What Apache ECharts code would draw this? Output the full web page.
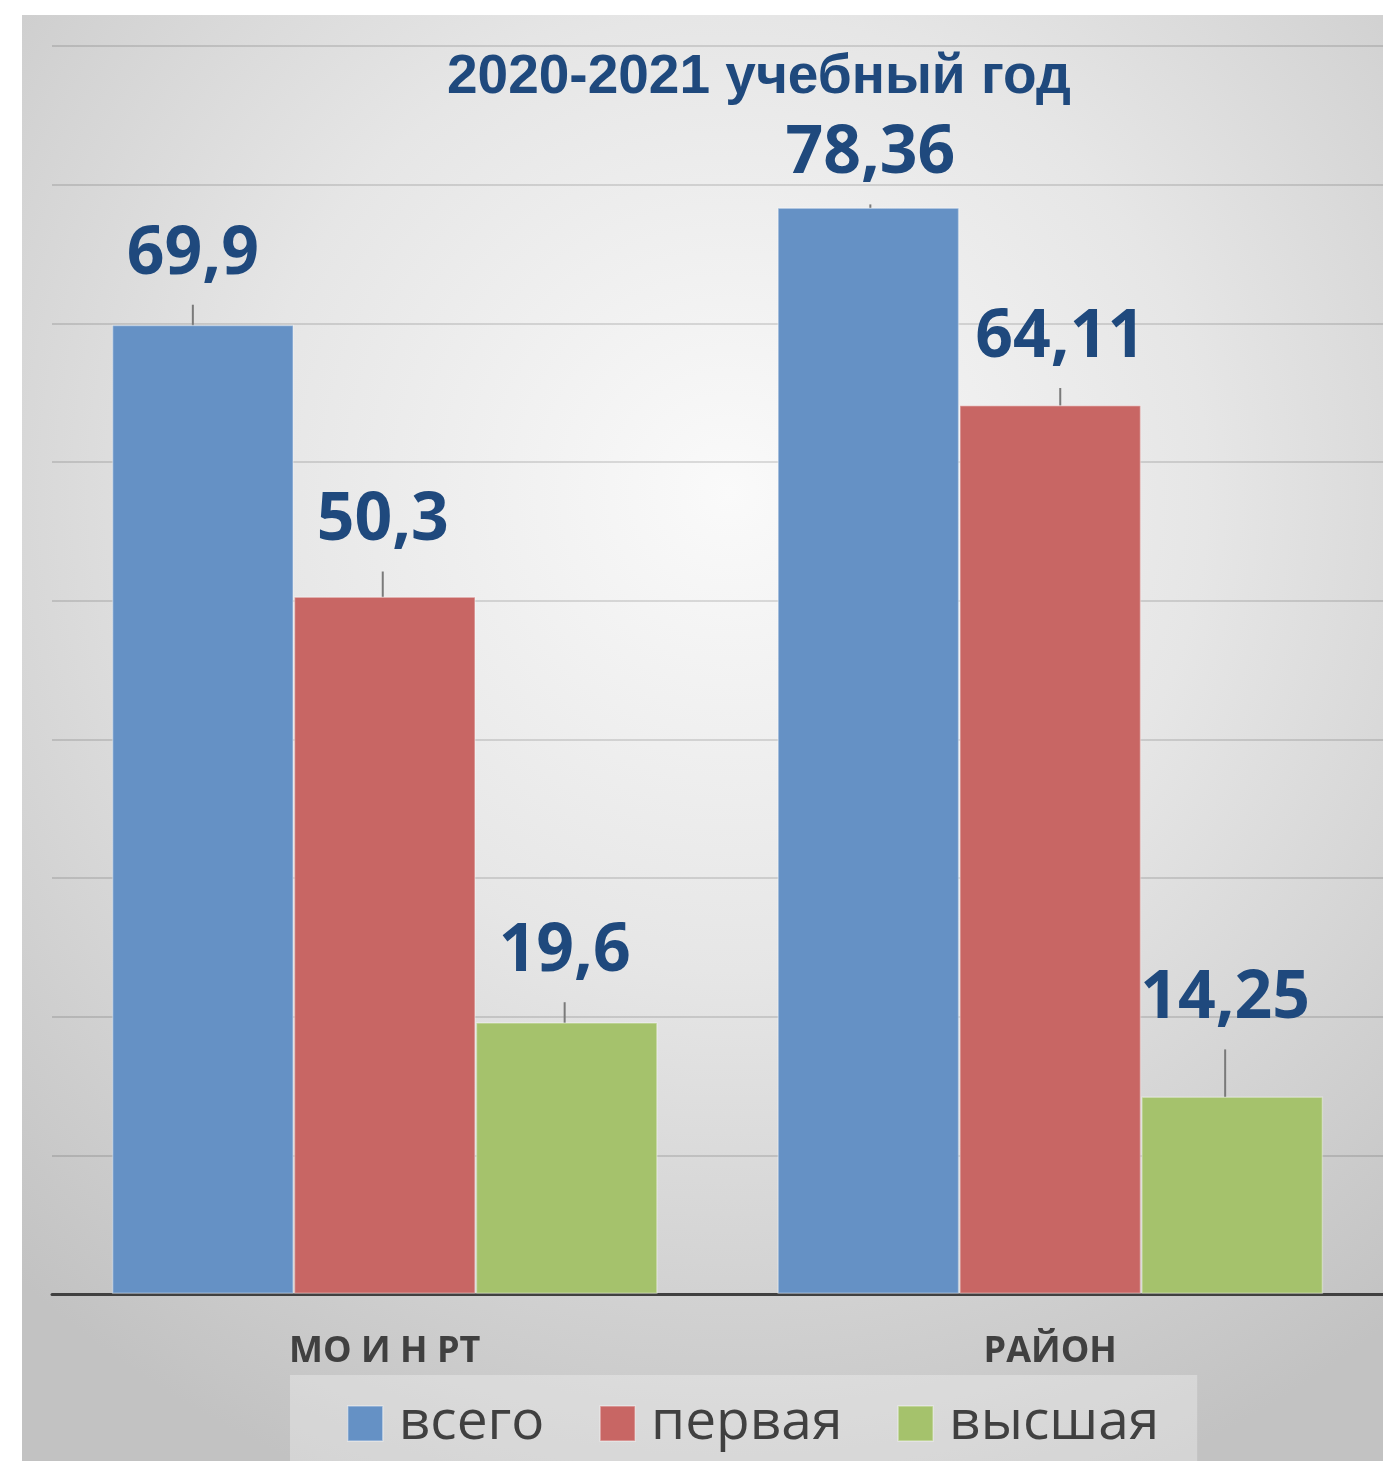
<!DOCTYPE html>
<html>
<head>
<meta charset="utf-8">
<script src="https://cdn.jsdelivr.net/npm/echarts@6/dist/echarts.min.js"></script>
<style>
html,body{margin:0;padding:0;background:#fff;}
#chart{width:1383px;height:1461px;}
</style>
</head>
<body>
<div id="chart"></div>
<script>
// ---- data ----
const titleText = '2020-2021 учебный год';
const categories = ['МО И Н РТ', 'РАЙОН'];
const seriesNames = ['всего', 'первая', 'высшая'];
const vsego = [69.9, 78.36];
const pervaya = [50.3, 64.11];
const vysshaya = [19.6, 14.25];
const labelTexts = [['69,9', '78,36'], ['50,3', '64,11'], ['19,6', '14,25']];
const yMin = 0, yMax = 90, yStep = 10;

// ---- label layout offsets (px), per series / per category ----
const labelDx = [[-10, 2], [-2, 10], [-2, -7]];
const labelDy = [[-20, -3], [-25, -17], [-20, -47]];

const colors = ['#6591C5', '#C86664', '#A5C26C'];
const seriesData = [vsego, pervaya, vysshaya];

const chart = echarts.init(document.getElementById('chart'), null, {renderer: 'canvas'});

const series = seriesNames.map((name, si) => ({
  name: name,
  type: 'bar',
  data: seriesData[si],
  barGap: '0%',
  barCategoryGap: '18%',
  itemStyle: {color: colors[si], borderColor: 'rgba(255,255,255,0.35)', borderWidth: 1.5},
  label: {
    show: true,
    position: 'top',
    distance: 0,
    lineHeight: 100,
    fontFamily: 'Open Sans',
    fontWeight: 700,
    fontSize: 66,
    color: '#1F497D',
    formatter: p => labelTexts[si][p.dataIndex]
  },
  labelLine: {show: true, lineStyle: {color: '#7a7a7a', width: 2}},
  labelLayout: p => ({dx: labelDx[si][p.dataIndex], dy: labelDy[si][p.dataIndex]}),
  emphasis: {disabled: true}
}));

chart.setOption({
  animation: false,
  backgroundColor: '#ffffff',
  graphic: [{
    type: 'rect', left: 22, top: 15, z: -10, silent: true,
    shape: {width: 1361, height: 1446},
    style: {fill: {type: 'radial', x: 0.52, y: 0.33, r: 0.78,
      colorStops: [{offset: 0, color: '#fafafa'}, {offset: 0.45, color: '#e6e6e6'}, {offset: 1, color: '#c2c2c2'}]}}
  }],
  title: {
    text: titleText, left: 447, top: 50, padding: 0,
    textStyle: {fontFamily: '"Liberation Sans", Arial', fontWeight: 700, fontSize: 55, color: '#1F497D'}
  },
  legend: {
    data: seriesNames, left: 290, top: 1375, orient: 'horizontal',
    padding: [21, 38, 20, 57], itemGap: 55, itemWidth: 35, itemHeight: 35,
    backgroundColor: 'rgba(255,255,255,0.3)',
    icon: 'rect',
    itemStyle: {borderColor: 'rgba(255,255,255,0.4)', borderWidth: 1.5},
    textStyle: {fontFamily: 'Open Sans', fontSize: 55, color: '#404040', padding: [0, 0, 0, 11]}
  },
  grid: {left: 52, right: 0, top: 46, bottom: 167, containLabel: false},
  xAxis: {
    type: 'category', data: categories,
    axisLine: {lineStyle: {color: '#404040', width: 3}},
    axisTick: {show: false},
    axisLabel: {margin: 40, fontFamily: 'Open Sans', fontWeight: 700, fontSize: 36, color: '#404040'}
  },
  yAxis: {
    type: 'value', min: yMin, max: yMax, interval: yStep,
    axisLine: {show: false}, axisTick: {show: false}, axisLabel: {show: false},
    splitLine: {lineStyle: {color: 'rgba(0,0,0,0.12)', width: 2}}
  },
  series: series
});
</script>
</body>
</html>
